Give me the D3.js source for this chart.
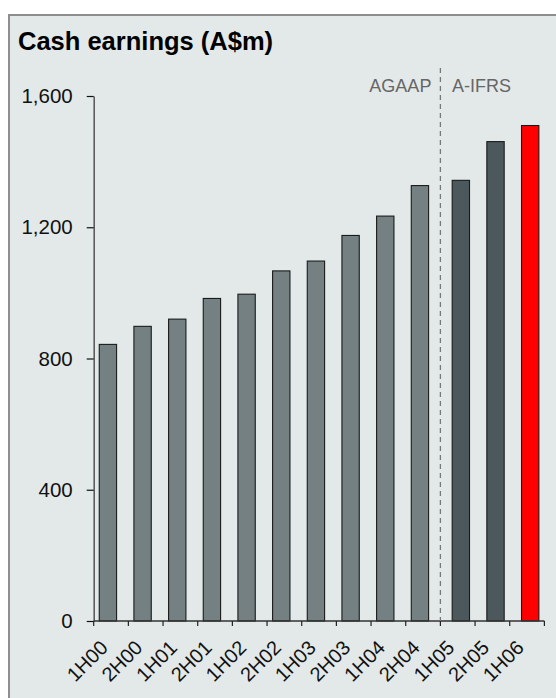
<!DOCTYPE html>
<html>
<head>
<meta charset="utf-8">
<script src="https://cdn.jsdelivr.net/npm/d3@7"></script>
<style>
  html, body { margin: 0; padding: 0; background: #ffffff; }
  svg { display: block; font-family: "Liberation Sans", Arial, Helvetica, sans-serif; }
</style>
</head>
<body>
<svg id="chart" width="556" height="698"></svg>
<script>
// Half-year periods on the category axis
const periods = ["1H00", "2H00", "1H01", "2H01", "1H02", "2H02", "1H03", "2H03", "1H04", "2H04", "1H05", "2H05", "1H06"];
// Cash earnings (A$m) reported under each accounting standard
const agaapValues = [843, 898, 920, 983, 996, 1067, 1097, 1175, 1234, 1327, null, null, null];
const aifrsValues = [null, null, null, null, null, null, null, null, null, null, 1343, 1461, 1510];
const standards = ["AGAAP", "A-IFRS"];
const yTicks = [0, 400, 800, 1200, 1600];
const highlightPeriod = "1H06";

const svg = d3.select("#chart");

// Panel background and frame
svg.append("rect")
  .attr("x", 9).attr("y", 15)
  .attr("width", 600).attr("height", 720)
  .attr("fill", "#e3e9e9")
  .attr("stroke", "#8e8e8e")
  .attr("stroke-width", 2);

// Title
svg.append("text")
  .attr("x", 18).attr("y", 50)
  .attr("font-size", 25.5)
  .attr("font-weight", "bold")
  .attr("fill", "#000")
  .text("Cash earnings (A$m)");

const x = d3.scaleBand().domain(periods).range([93.7, 544.4]).padding(0);
const y = d3.scaleLinear().domain([0, 1600]).range([621, 96]);
const bw = x.bandwidth();
// Each standard sits slightly to one side within its period slot
const x1 = d3.scalePoint().domain(standards).range([0.41 * bw, 0.59 * bw]);
const barW = 0.5 * bw;

const rows = [];
periods.forEach((p, i) => {
  if (agaapValues[i] != null) rows.push({ period: p, standard: "AGAAP", value: agaapValues[i] });
  if (aifrsValues[i] != null) rows.push({ period: p, standard: "A-IFRS", value: aifrsValues[i] });
});

const fillFor = d => d.period === highlightPeriod ? "#ff0000" : (d.standard === "AGAAP" ? "#748082" : "#4c585c");

// Bars
svg.append("g").selectAll("rect")
  .data(rows)
  .join("rect")
  .attr("x", d => x(d.period) + x1(d.standard) - barW / 2)
  .attr("y", d => y(d.value))
  .attr("width", barW)
  .attr("height", d => y(0) - y(d.value))
  .attr("fill", fillFor)
  .attr("stroke", "#1a1a1a")
  .attr("stroke-width", 1.1);

// Y axis
const yAxis = svg.append("g")
  .attr("transform", `translate(${x.range()[0]},0)`)
  .call(d3.axisLeft(y).tickValues(yTicks).tickFormat(d3.format(",")).tickSize(7).tickSizeOuter(0).tickPadding(14));
yAxis.select(".domain").attr("stroke", "#555").attr("stroke-width", 1.5);
yAxis.selectAll(".tick line").attr("stroke", "#111").attr("stroke-width", 1.2);
yAxis.selectAll(".tick text")
  .attr("font-size", 20.5)
  .attr("fill", "#111")
  .attr("font-family", "Liberation Sans, Arial, sans-serif");

// X axis: baseline with ticks between the periods
const xr = x.range();
const xAxis = svg.append("g");
xAxis.append("line")
  .attr("x1", xr[0]).attr("x2", xr[1])
  .attr("y1", y(0)).attr("y2", y(0))
  .attr("stroke", "#333").attr("stroke-width", 1.3);
const boundaries = periods.map(p => x(p)).concat([xr[1]]);
xAxis.selectAll("line.tick")
  .data(boundaries)
  .join("line")
  .attr("class", "tick")
  .attr("x1", d => d).attr("x2", d => d)
  .attr("y1", y(0)).attr("y2", y(0) + 5)
  .attr("stroke", "#222").attr("stroke-width", 1.2);
xAxis.selectAll("text")
  .data(periods)
  .join("text")
  .attr("transform", p => `translate(${x(p) + bw / 2 - 2},${y(0) + 28}) rotate(-45)`)
  .attr("text-anchor", "end")
  .attr("font-size", 20)
  .attr("fill", "#111")
  .text(p => p);

// Divider between accounting standards
const divX = x("1H05");
svg.append("line")
  .attr("x1", divX).attr("x2", divX)
  .attr("y1", 68).attr("y2", y(0))
  .attr("stroke", "#777")
  .attr("stroke-width", 1.3)
  .attr("stroke-dasharray", "5,4");

svg.append("text")
  .attr("x", divX - 9).attr("y", 91.5)
  .attr("text-anchor", "end")
  .attr("font-size", 18)
  .attr("fill", "#666")
  .text(standards[0]);
svg.append("text")
  .attr("x", divX + 11.5).attr("y", 91.5)
  .attr("text-anchor", "start")
  .attr("font-size", 18)
  .attr("fill", "#666")
  .text(standards[1]);
</script>
</body>
</html>
